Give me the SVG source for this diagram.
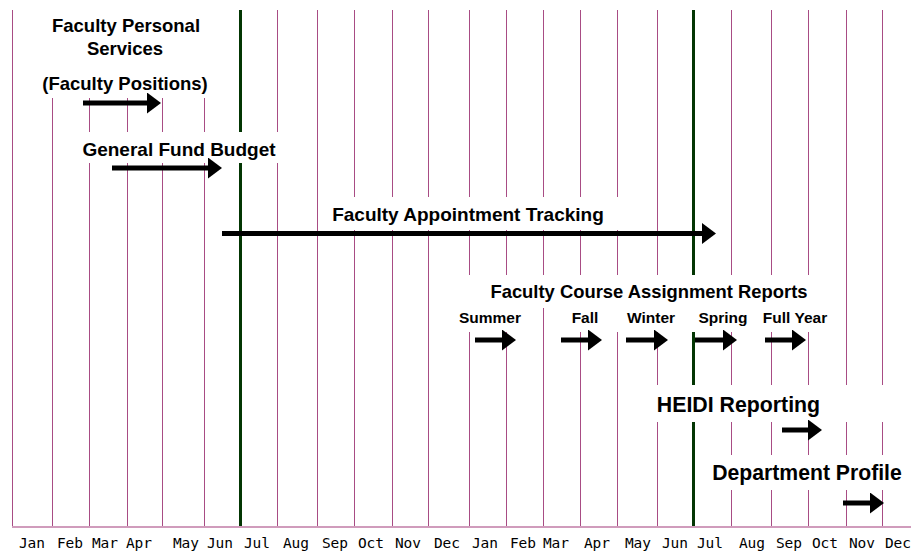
<svg xmlns="http://www.w3.org/2000/svg" width="911" height="553" viewBox="0 0 911 553">
<style>
.grid line{stroke:#A84C84;stroke-width:1}
.grid line.g{stroke:#033603;stroke-width:3}
.bg{fill:#fff}
.t{font-family:"Liberation Sans",Arial,sans-serif;font-weight:bold;fill:#000;text-anchor:middle}
.m{font-family:"DejaVu Sans Mono","Liberation Mono",monospace;font-size:14.5px;fill:#000;text-anchor:middle}
.arr{stroke:#000;stroke-width:5;fill:none;marker-end:url(#head)}
</style>
<defs>
<marker id="head" markerUnits="userSpaceOnUse" markerWidth="14" markerHeight="21" refX="1" refY="10.5" orient="auto" viewBox="0 0 14 21">
<path d="M0,0 L14,10.5 L0,21 Z" fill="#000"/>
</marker>
</defs>
<rect width="911" height="553" fill="#fff"/>
<g id="grid" class="grid">
<line x1="12.5" y1="10" x2="12.5" y2="527"/>
<line x1="52.5" y1="10" x2="52.5" y2="527"/>
<line x1="89.5" y1="10" x2="89.5" y2="527"/>
<line x1="127.5" y1="10" x2="127.5" y2="527"/>
<line x1="162.5" y1="10" x2="162.5" y2="527"/>
<line x1="204.5" y1="10" x2="204.5" y2="527"/>
<line class="g" x1="240.5" y1="10" x2="240.5" y2="527"/>
<line x1="277.5" y1="10" x2="277.5" y2="527"/>
<line x1="317.5" y1="10" x2="317.5" y2="527"/>
<line x1="354.5" y1="10" x2="354.5" y2="527"/>
<line x1="392.5" y1="10" x2="392.5" y2="527"/>
<line x1="428.5" y1="10" x2="428.5" y2="527"/>
<line x1="469.5" y1="10" x2="469.5" y2="527"/>
<line x1="506.5" y1="10" x2="506.5" y2="527"/>
<line x1="543.5" y1="10" x2="543.5" y2="527"/>
<line x1="580.5" y1="10" x2="580.5" y2="527"/>
<line x1="617.5" y1="10" x2="617.5" y2="527"/>
<line x1="657.5" y1="10" x2="657.5" y2="527"/>
<line class="g" x1="693.5" y1="10" x2="693.5" y2="527"/>
<line x1="731.5" y1="10" x2="731.5" y2="527"/>
<line x1="771.5" y1="10" x2="771.5" y2="527"/>
<line x1="808.5" y1="10" x2="808.5" y2="527"/>
<line x1="846.5" y1="10" x2="846.5" y2="527"/>
<line x1="882.5" y1="10" x2="882.5" y2="527"/>
<line x1="12" y1="527" x2="911" y2="527" style="stroke:#D09CBC;stroke-width:2"/>
</g>
<g id="months">
<text class="m" x="32" y="548">Jan</text>
<text class="m" x="70" y="548">Feb</text>
<text class="m" x="105" y="548">Mar</text>
<text class="m" x="139" y="548">Apr</text>
<text class="m" x="186" y="548">May</text>
<text class="m" x="220" y="548">Jun</text>
<text class="m" x="257" y="548">Jul</text>
<text class="m" x="296" y="548">Aug</text>
<text class="m" x="335" y="548">Sep</text>
<text class="m" x="371" y="548">Oct</text>
<text class="m" x="408" y="548">Nov</text>
<text class="m" x="447" y="548">Dec</text>
<text class="m" x="485" y="548">Jan</text>
<text class="m" x="523" y="548">Feb</text>
<text class="m" x="556" y="548">Mar</text>
<text class="m" x="597" y="548">Apr</text>
<text class="m" x="638" y="548">May</text>
<text class="m" x="675" y="548">Jun</text>
<text class="m" x="710" y="548">Jul</text>
<text class="m" x="752" y="548">Aug</text>
<text class="m" x="789" y="548">Sep</text>
<text class="m" x="825" y="548">Oct</text>
<text class="m" x="862" y="548">Nov</text>
<text class="m" x="898" y="548">Dec</text>
</g>
<g id="faculty-personal-services">
<rect class="bg" x="40" y="0" width="175" height="98"/>
<text class="t" x="126" y="32" font-size="18.5">Faculty Personal</text>
<text class="t" x="125" y="55" font-size="18.5">Services</text>
<text class="t" x="125" y="90" font-size="18.5">(Faculty Positions)</text>
</g>
<g id="general-fund-budget">
<rect class="bg" x="72" y="132" width="218" height="31"/>
<text class="t" x="179" y="156" font-size="19">General Fund Budget</text>
</g>
<g id="faculty-appointment-tracking">
<rect class="bg" x="322" y="197" width="305" height="33"/>
<text class="t" x="468" y="221" font-size="19">Faculty Appointment Tracking</text>
</g>
<g id="faculty-course-assignment-reports">
<rect class="bg" x="462" y="275" width="352" height="33"/>
<text class="t" x="649" y="298" font-size="18.4">Faculty Course Assignment Reports</text>
<rect class="bg" x="450" y="308" width="85" height="24"/>
<rect class="bg" x="560" y="308" width="50" height="24"/>
<rect class="bg" x="612" y="308" width="74" height="24"/>
<rect class="bg" x="689" y="308" width="68" height="24"/>
<rect class="bg" x="760" y="308" width="76" height="24"/>
<text class="t" x="490" y="323" font-size="15.5">Summer</text>
<text class="t" x="585" y="323" font-size="15.5">Fall</text>
<text class="t" x="651" y="323" font-size="15.5">Winter</text>
<text class="t" x="723" y="323" font-size="15.5">Spring</text>
<text class="t" x="795" y="323" font-size="15.5">Full Year</text>
</g>
<g id="heidi-reporting">
<rect class="bg" x="648" y="385" width="245" height="37"/>
<text class="t" x="738.5" y="412" font-size="21.3">HEIDI Reporting</text>
</g>
<g id="department-profile">
<rect class="bg" x="705" y="455" width="206" height="35"/>
<text class="t" x="807" y="480" font-size="21.2">Department Profile</text>
</g>
<g id="connectors">
<line class="arr" x1="83" y1="103" x2="148" y2="103"/>
<line class="arr" x1="112" y1="168" x2="209" y2="168"/>
<line class="arr" x1="222" y1="233.5" x2="703" y2="233.5"/>
<line class="arr" x1="475" y1="340" x2="503" y2="340"/>
<line class="arr" x1="561" y1="340" x2="589" y2="340"/>
<line class="arr" x1="626" y1="340" x2="655" y2="340"/>
<line class="arr" x1="695" y1="340" x2="724" y2="340"/>
<line class="arr" x1="765" y1="340" x2="793" y2="340"/>
<line class="arr" x1="782" y1="430" x2="809" y2="430"/>
<line class="arr" x1="843" y1="503" x2="871" y2="503"/>
</g>
</svg>
